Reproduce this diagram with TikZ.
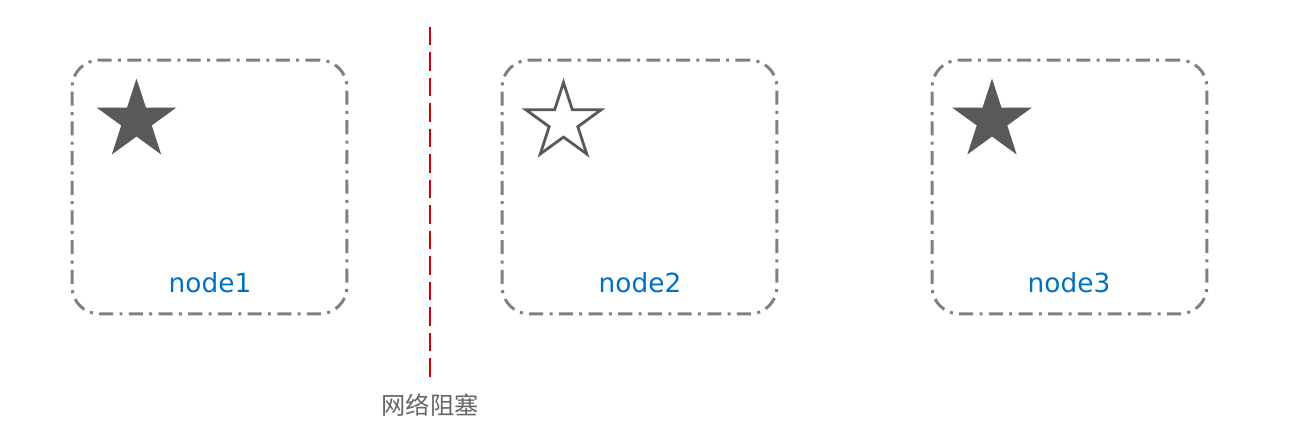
\documentclass[tikz,border=0pt]{standalone}
\usepackage{fontspec}
\setsansfont{DejaVu Sans}
\newfontfamily\cjkfont{Noto Sans CJK SC}
\usepackage{tikz}
\usetikzlibrary{shapes.geometric, positioning, calc}
\definecolor{BoxGray}{RGB}{128, 128, 128}
\definecolor{StarGray}{RGB}{89, 89, 89}
\definecolor{LabelBlue}{RGB}{0, 112, 192}
\definecolor{CutRed}{RGB}{200, 0, 10}
\definecolor{TextGray}{RGB}{102, 102, 102}

\tikzset{
    nodebox/.style={draw=BoxGray, line width=1.7pt, rounded corners=0.55cm,
        dash pattern=on 8pt off 3.6pt on 1.7pt off 3.6pt,
        minimum width=5.5cm, minimum height=5.08cm, inner sep=0pt},
    starmark/.style={star, star points=5, star point ratio=2.618,
        minimum size=1.68cm, inner sep=0pt},
    fullstar/.style={starmark, fill=StarGray},
    emptystar/.style={starmark, draw=StarGray, line width=1.6pt, minimum size=1.58cm},
    nodelabel/.style={font=\sffamily\fontsize{15}{18}\selectfont, text=LabelBlue}
}

\begin{document}
\begin{tikzpicture}[x=0.02cm, y=-0.02cm]
            \useasboundingbox (0,0) rectangle (1304,420);

            % node1
            \node[nodebox] (box1) at (209.5,187) {};
            \node[fullstar] (star1) at (136.5,120.5) {};
            \node[nodelabel] (label1) at (210,283) {node1};

            % node2
            \node[nodebox] (box2) at (639.5,187) {};
            \node[emptystar] (star2) at (563.5,122) {};
            \node[nodelabel] (label2) at (640,283) {node2};

            % node3
            \node[nodebox] (box3) at (1069.5,187) {};
            \node[fullstar] (star3) at (992,120.5) {};
            \node[nodelabel] (label3) at (1069,283) {node3};

            % blocked network
            \coordinate (cuttop) at (430,27);
            \node[font=\cjkfont\fontsize{13.8}{16}\selectfont, text=TextGray] (cutlabel) at (430,405) {网络阻塞};
            \draw[CutRed, line width=1.6pt, dash pattern=on 10.5pt off 4pt, shorten >=3.5pt] (cuttop) -- (cutlabel.north);
        \end{tikzpicture}
\end{document}
